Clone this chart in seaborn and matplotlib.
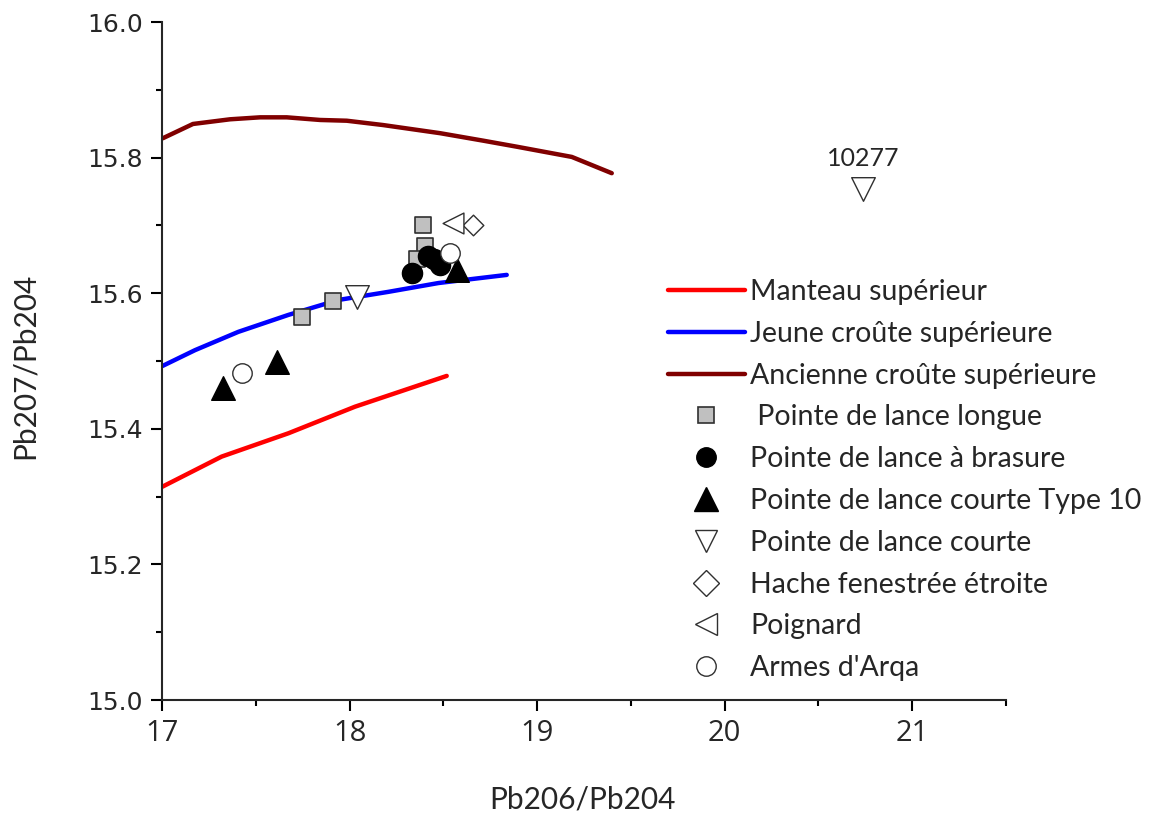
import numpy as np
import pandas as pd
import matplotlib
matplotlib.use("Agg")
import matplotlib.pyplot as plt
from matplotlib.lines import Line2D
import seaborn as sns

# ---- data ----
manteau_x = [17.002, 17.318, 17.674, 18.029, 18.518]
manteau_y = [15.3146, 15.359, 15.3934, 15.4326, 15.478]

jeune_x = [17.002, 17.176, 17.407, 17.674, 17.940, 18.207, 18.474, 18.838]
jeune_y = [15.4926, 15.516, 15.543, 15.568, 15.590, 15.602, 15.615, 15.627]

ancienne_x = [17.004, 17.165, 17.363, 17.523, 17.665, 17.843, 17.985, 18.179,
              18.483, 18.712, 18.893, 19.185, 19.398]
ancienne_y = [15.8285, 15.8496, 15.8565, 15.8594, 15.8594, 15.8555, 15.8544,
              15.848, 15.836, 15.825, 15.816, 15.801, 15.777]

longue_x = [18.39, 18.40, 18.36, 17.745, 17.914]
longue_y = [15.700, 15.670, 15.650, 15.565, 15.589]

brasure_x = [18.333, 18.42, 18.45, 18.48]
brasure_y = [15.630, 15.655, 15.650, 15.642]

type10_x = [17.324, 17.613, 18.573]
type10_y = [15.460, 15.499, 15.634]

courte_x = [18.038, 20.74]
courte_y = [15.594, 15.753]

hache_x = [18.659]
hache_y = [15.701]

poignard_x = [18.552]
poignard_y = [15.703]

arqa_x = [18.536, 17.428]
arqa_y = [15.660, 15.483]

label_10277 = "10277"

curve_labels = ["Manteau supérieur", "Jeune croûte supérieure", "Ancienne croûte supérieure"]
point_labels = [" Pointe de lance longue", "Pointe de lance à brasure",
                "Pointe de lance courte Type 10", "Pointe de lance courte",
                "Hache fenestrée étroite", "Poignard", "Armes d'Arqa"]

# ---- styling ----
sns.set_theme(style="ticks")
plt.rcParams['font.family'] = ['Lato', 'DejaVu Sans']
plt.rcParams['axes.linewidth'] = 1.5

fig = plt.figure(figsize=(11.52, 8.16), dpi=100)
ax = fig.add_axes([162/1152, 1-700/816, (1006-162)/1152, (700-22)/816])

curve_colors = ["#ff0000", "#0000ff", "#800000"]
curves = [(manteau_x, manteau_y), (jeune_x, jeune_y), (ancienne_x, ancienne_y)]
for (cx, cy), col in zip(curves, curve_colors):
    sns.lineplot(x=cx, y=cy, ax=ax, color=col, linewidth=3.2, sort=False,
                 estimator=None, legend=False)

# marker specs: (x, y, marker, size(pts), facecolor, edgecolor, lw, legend size)
specs = [
    (longue_x, longue_y, 's', 12, '#c0c0c0', '#303030', 1.2, 11.5),
    (brasure_x, brasure_y, 'o', 14.5, 'black', 'black', 1.0, 14),
    (type10_x, type10_y, '^', 17, 'black', 'black', 1.0, 17),
    (courte_x, courte_y, 'v', 17, 'white', '#303030', 1.0, 16),
    (hache_x, hache_y, 'D', 10.5, 'white', '#303030', 1.0, 13.5),
    (poignard_x, poignard_y, '<', 15, 'white', '#303030', 1.0, 16),
    (arqa_x, arqa_y, 'o', 14, 'white', '#303030', 1.0, 14),
]
for px, py, m, s, fc, ec, lw, ls in specs:
    sns.scatterplot(x=px, y=py, ax=ax, marker=m, s=s**2, color=fc,
                    edgecolor=ec, linewidth=lw, legend=False, zorder=3)

ax.text(courte_x[1], courte_y[1] + 0.045, label_10277, ha='center', va='center',
        fontsize=18, family=['Lato', 'DejaVu Sans'])

ax.set_xlim(17, 21.5)
ax.set_ylim(15.0, 16.0)
ax.set_xticks([17, 18, 19, 20, 21])
ax.set_xticks([17.5, 18.5, 19.5, 20.5, 21.5], minor=True)
ax.set_yticks([15.0, 15.2, 15.4, 15.6, 15.8, 16.0])
ax.set_yticks([15.1, 15.3, 15.5, 15.7, 15.9], minor=True)
ax.set_yticklabels(["15.0", "15.2", "15.4", "15.6", "15.8", "16.0"],
                   fontsize=18, family='DejaVu Sans')
ax.set_xticklabels(["17", "18", "19", "20", "21"], fontsize=21, family='Open Sans')
ax.tick_params(which='major', direction='out', length=8, width=1.5, color='black', pad=6)
ax.tick_params(which='minor', direction='out', length=4.5, width=1.5, color='black')
for side in ['top', 'right']:
    ax.spines[side].set_visible(False)

ax.set_xlabel("Pb206/Pb204", fontsize=21.5)
ax.set_ylabel("Pb207/Pb204", fontsize=21.5)
ax.xaxis.set_label_coords((582-162)/844, (700-786)/678)
ax.yaxis.set_label_coords((39-162)/844, (700-366)/678)

# ---- legend ----
handles = []
for col in curve_colors:
    handles.append(Line2D([0], [0], color=col, linewidth=3.2))
for px, py, m, s, fc, ec, lw, ls in specs:
    handles.append(Line2D([0], [0], linestyle='none', marker=m, markersize=ls,
                          markerfacecolor=fc, markeredgecolor=ec, markeredgewidth=lw))
leg = fig.legend(handles, curve_labels + point_labels, loc='upper left',
                 bbox_to_anchor=(668/1152, 1-279/816), frameon=False,
                 fontsize=20.5, handlelength=2.7, handletextpad=0.18,
                 labelspacing=0.555, borderpad=0, borderaxespad=0)

fig.savefig("out.png", dpi=100)
